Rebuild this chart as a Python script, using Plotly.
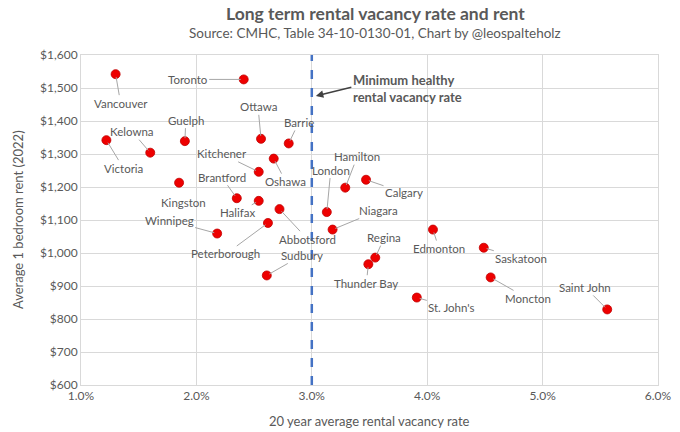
import plotly.graph_objects as go

# ---- data ----
cities = ["Vancouver", "Toronto", "Ottawa", "Barrie", "Guelph", "Kelowna", "Victoria",
          "Kitchener", "Oshawa", "Kingston", "Brantford", "Halifax", "Abbotsford",
          "Peterborough", "Winnipeg", "Sudbury", "Hamilton", "London", "Calgary",
          "Niagara", "Regina", "Thunder Bay", "Edmonton", "Saskatoon", "Moncton",
          "St. John's", "Saint John"]
vacancy_rate = [1.30, 2.41, 2.56, 2.80, 1.90, 1.60, 1.22,
                2.54, 2.67, 1.85, 2.35, 2.54, 2.72,
                2.62, 2.18, 2.61, 3.29, 3.13, 3.47,
                3.18, 3.55, 3.49, 4.05, 4.49, 4.55,
                3.91, 5.56]
rent = [1542, 1526, 1346, 1332, 1339, 1304, 1342,
        1246, 1286, 1213, 1166, 1158, 1133,
        1091, 1059, 932, 1198, 1124, 1222,
        1071, 986, 966, 1071, 1016, 926,
        865, 829]

x_ticks = [1, 2, 3, 4, 5, 6]
x_tick_labels = ["1.0%", "2.0%", "3.0%", "4.0%", "5.0%", "6.0%"]
y_ticks = [600, 700, 800, 900, 1000, 1100, 1200, 1300, 1400, 1500, 1600]
y_tick_labels = ["$600", "$700", "$800", "$900", "$1,000", "$1,100", "$1,200",
                 "$1,300", "$1,400", "$1,500", "$1,600"]
healthy_rate = 3.0

title_text = "Long term rental vacancy rate and rent"
subtitle_text = "Source: CMHC, Table 34-10-0130-01, Chart by @leospalteholz"
x_title = "20 year average rental vacancy rate"
y_title = "Average 1 bedroom rent (2022)"
note_text = "Minimum healthy<br>rental vacancy rate"

# ---- label placement (pixel offsets of each label from its point) ----
label_offsets = {
    "Vancouver": (5, 29), "Toronto": (-56, 0), "Ottawa": (-3, -32), "Barrie": (10, -21),
    "Guelph": (1, -21), "Kelowna": (-18, -21), "Victoria": (17, 28), "Kitchener": (-37, -18),
    "Oshawa": (12, 23), "Kingston": (4, 20), "Brantford": (-15, -21), "Halifax": (-21, 12),
    "Abbotsford": (28, 30), "Peterborough": (-42, 31), "Winnipeg": (-48, -13),
    "Sudbury": (35, -20), "Hamilton": (12, -31), "London": (4, -42), "Calgary": (38, 13),
    "Niagara": (46, -19), "Regina": (9, -20), "Thunder Bay": (-2, 19), "Edmonton": (6, 19),
    "Saskatoon": (37, 11), "Moncton": (37, 21), "St. John's": (35, 10), "Saint John": (-22, -22),
}

FONT = "Lato"
GREY = "#595959"

fig = go.Figure()
fig.add_trace(go.Scatter(
    x=vacancy_rate, y=rent, mode="markers", text=cities,
    marker=dict(size=9, color="#ee0000", line=dict(color="#c00000", width=0.8)),
    hoverinfo="text", showlegend=False,
))

annotations = []
for c, xv, yv in zip(cities, vacancy_rate, rent):
    ax, ay = label_offsets[c]
    annotations.append(dict(
        x=xv, y=yv, xref="x", yref="y", text=c, showarrow=True, arrowhead=0,
        arrowwidth=1, arrowcolor="#a6a6a6", ax=ax, ay=ay, standoff=3,
        font=dict(family=FONT, size=11.5, color=GREY),
    ))

# minimum healthy vacancy rate note
annotations.append(dict(
    x=3.035, y=1476, xref="x", yref="y", text="", showarrow=True, arrowhead=2,
    arrowsize=1, arrowwidth=1.5, arrowcolor="#404040", ax=37, ay=-9,
))
annotations.append(dict(
    x=3.34, y=1499, xref="x", yref="y", xanchor="left", yanchor="middle", align="left",
    text="<b>" + note_text + "</b>", showarrow=False,
    font=dict(family=FONT, size=13, color=GREY),
))
# titles
annotations += [
    dict(x=0.51, y=1.1258, xref="paper", yref="paper", xanchor="center", yanchor="middle",
         text="<b>" + title_text + "</b>", showarrow=False, borderpad=0,
         font=dict(family=FONT, size=17.5, color=GREY)),
    dict(x=0.51, y=1.068, xref="paper", yref="paper", xanchor="center", yanchor="middle",
         text=subtitle_text, showarrow=False, borderpad=0,
         font=dict(family=FONT, size=13.5, color=GREY)),
    dict(x=0.5, y=-0.109, xref="paper", yref="paper", xanchor="center", yanchor="middle",
         text=x_title, showarrow=False, font=dict(family=FONT, size=13, color=GREY)),
    dict(x=-0.109, y=0.5, xref="paper", yref="paper", xanchor="center", yanchor="middle",
         text=y_title, textangle=-90, showarrow=False,
         font=dict(family=FONT, size=13, color=GREY)),
]

# the page body adds an 8px margin, so the figure is 8px smaller and shifted
fig.update_layout(
    width=672, height=424,
    margin=dict(l=73, r=22, t=47, b=47, autoexpand=False),
    paper_bgcolor="white", plot_bgcolor="white",
    font=dict(family=FONT, size=12, color=GREY),
    annotations=annotations,
    shapes=[dict(type="line", xref="x", yref="paper", x0=healthy_rate, x1=healthy_rate,
                 y0=0, y1=1, line=dict(color="#4472c4", width=2.5, dash="dash"))],
)
fig.update_xaxes(
    range=[1, 6], tickvals=x_ticks, ticktext=x_tick_labels, automargin=False,
    showgrid=True, gridcolor="#d9d9d9", gridwidth=1, zeroline=False,
    showline=True, linecolor="#d9d9d9", mirror=True, ticks="",
    tickfont=dict(family=FONT, size=12, color=GREY),
)
fig.update_yaxes(
    range=[600, 1600], tickvals=y_ticks, ticktext=y_tick_labels, automargin=False,
    showgrid=True, gridcolor="#d9d9d9", gridwidth=1, zeroline=False,
    showline=True, linecolor="#d9d9d9", mirror=True, ticks="",
    tickfont=dict(family=FONT, size=12, color=GREY),
)

fig.write_html("out.html")
